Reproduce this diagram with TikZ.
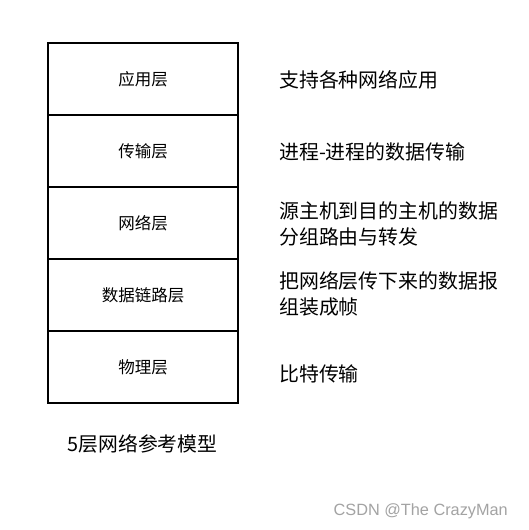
\documentclass[tikz,border=0pt]{standalone}
\usepackage{fontspec}
\setmainfont{Noto Sans CJK SC}
\newfontfamily\wmfont{Liberation Sans}
\definecolor{wmgray}{HTML}{A3A3A3}
\definecolor{linegray}{HTML}{000000}
\begin{document}
\begin{tikzpicture}[x=1pt,y=-1pt,
  layerbox/.style={draw=linegray,line width=1.2pt,minimum width=190pt,minimum height=72pt,inner sep=0pt,
    font={\fontsize{16.5}{20}\selectfont}},
  desc/.style={anchor=west,inner sep=0pt,align=left,font={\fontsize{19.9}{26}\selectfont}},
  captxt/.style={inner sep=0pt,font={\fontsize{19.8}{24}\selectfont}},
  wm/.style={inner sep=0pt,text=wmgray,font={\wmfont\fontsize{16.3}{20}\selectfont}}]
\useasboundingbox (0,0) rectangle (529,530);
\fill[white] (0,0) rectangle (529,530);
\node[layerbox] (app) at (143,79) {应用层};
\node[layerbox] (trans) at (143,151) {传输层};
\node[layerbox] (net) at (143,223) {网络层};
\node[layerbox] (link) at (143,295) {数据链路层};
\node[layerbox] (phys) at (143,367) {物理层};
\node[desc] (dapp) at (279,80) {支持各种网络应用};
\node[desc] (dtrans) at (279,152) {进程-进程的数据传输};
\node[desc] (dnet) at (279,223.5) {源主机到目的主机的数据\\分组路由与转发};
\node[desc] (dlink) at (279,294) {把网络层传下来的数据报\\组装成帧};
\node[desc] (dphys) at (279,374) {比特传输};
\node[captxt] (caption) at (142.5,444) {5层网络参考模型};
\node[wm,anchor=east] (mark) at (508,511) {CSDN @The CrazyMan};
\end{tikzpicture}
\end{document}
